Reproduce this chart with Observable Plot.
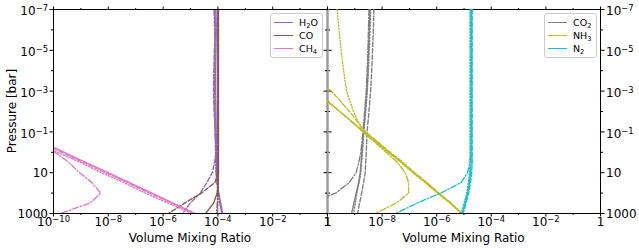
<!DOCTYPE html>
<html><head><meta charset="utf-8">
<script src="https://cdn.jsdelivr.net/npm/d3@7"></script>
<script src="https://cdn.jsdelivr.net/npm/@observablehq/plot@0.6"></script>
<style>
body{margin:0;background:#fff;font-family:"DejaVu Sans",sans-serif;}
#wrap{position:relative;width:639px;height:250px;overflow:hidden;background:#fff;}
#wrap svg{position:absolute;top:0;}
.lab{position:absolute;font-size:12px;color:#000;white-space:nowrap;line-height:1;}
.legend{position:absolute;border:1px solid #cccccc;border-radius:3px;background:rgba(255,255,255,0.85);font-size:9.5px;box-sizing:border-box;}
.legend .row{position:absolute;left:0;height:0;}
.legend .sw{position:absolute;left:3px;width:19px;height:1.6px;top:-0.8px;}
.legend .tx{position:absolute;left:28px;top:-6px;white-space:nowrap;line-height:12px;}
.legend sub{font-size:70%;vertical-align:-0.25em;line-height:0;}
</style></head><body><div id="wrap"></div>
<script>
// ---------- data ----------
const pressure = [1e-7, 1e-6, 1e-5, 1e-4, 1e-3, 1e-2, 1e-1, 1, 3, 10, 30, 100, 300, 1000];

const h2o = {
  solid:   [8.51e-5, 8.71e-5, 8.51e-5, 8.32e-5, 8.32e-5, 8.51e-5, 8.71e-5, 8.91e-5, 8.91e-5, 8.91e-5, 9.55e-5, 1.07e-4, 1.26e-4, 1.48e-4],
  dashed:  [7.59e-5, 7.94e-5, 7.41e-5, 7.08e-5, 6.92e-5, 7.24e-5, 7.94e-5, 8.51e-5, 7.59e-5, 6.31e-5, 3.98e-5, 2.24e-5, 1.0e-5, 5.01e-6],
  dotted:  [7.94e-5, 8.13e-5, 7.76e-5, 7.59e-5, 7.76e-5, 7.94e-5, 8.13e-5, 8.32e-5, 8.51e-5, 8.51e-5, 9.12e-5, 1.02e-4, 1.17e-4, 1.38e-4],
  dashdot: [7.24e-5, 7.59e-5, 7.94e-5, 7.76e-5, 7.41e-5, 7.59e-5, 7.94e-5, 8.13e-5, 8.32e-5, 8.71e-5, 9.33e-5, 1.05e-4, 1.2e-4, 1.41e-4]
};
const co = {
  solid:   [1.05e-4, 1.05e-4, 1.05e-4, 1.05e-4, 1.05e-4, 1.05e-4, 1.05e-4, 1.05e-4, 1.05e-4, 1.05e-4, 1.02e-4, 9.33e-5, 7.08e-5, 3.55e-5],
  dashed:  [1.0e-4, 1.0e-4, 1.0e-4, 1.0e-4, 1.0e-4, 1.0e-4, 1.0e-4, 1.0e-4, 1.0e-4, 9.77e-5, 7.94e-5, 2.51e-5, 6.31e-6, 1.58e-6],
  dotted:  [1.02e-4, 1.02e-4, 1.02e-4, 1.02e-4, 1.02e-4, 1.02e-4, 1.02e-4, 1.02e-4, 1.02e-4, 1.02e-4, 1.02e-4, 1.02e-4, 1.0e-4, 9.77e-5],
  dashdot: [1.0e-4, 1.0e-4, 1.0e-4, 1.0e-4, 1.0e-4, 1.0e-4, 1.0e-4, 1.0e-4, 1.0e-4, 1.0e-4, 1.0e-4, 9.77e-5, 9.55e-5, 8.91e-5]
};
const ch4 = {
  solid:   [null, null, null, null, null, null, 6.31e-12, 2.51e-10, 1.41e-9, 1.0e-8, 5.62e-8, 3.98e-7, 2.24e-6, 1.51e-5],
  dashed:  [null, null, null, null, null, null, 5.01e-12, 2.0e-10, 1.12e-9, 7.94e-9, 4.79e-8, 3.16e-7, 1.91e-6, 1.32e-5],
  dotted:  [null, null, null, null, null, null, 3.16e-12, 1.41e-10, 8.91e-10, 5.62e-9, 3.55e-8, 2.24e-7, 1.41e-6, 1.12e-5],
  dashdot: [null, null, null, null, null, null, 3.16e-12, 1.12e-10, 3.55e-10, 8.91e-10, 2.51e-9, 5.25e-9, 2.24e-9, 1.82e-10]
};
const co2 = {
  solid:   [3.55e-9, 3.39e-9, 3.16e-9, 3.02e-9, 2.75e-9, 2.4e-9, 2.09e-9, 1.82e-9, 1.7e-9, 1.58e-9, 1.38e-9, 1.12e-9, 9.33e-10, 7.59e-10],
  dashed:  [5.01e-9, 4.79e-9, 4.47e-9, 4.17e-9, 3.8e-9, 3.31e-9, 2.82e-9, 2.63e-9, 2.51e-9, 2.4e-9, 2.09e-9, 1.78e-9, 1.51e-9, 1.26e-9],
  dotted:  [3.8e-9, 3.63e-9, 3.39e-9, 3.16e-9, 2.88e-9, 2.51e-9, 2.14e-9, 1.91e-9, 1.78e-9, 1.66e-9, 1.45e-9, 1.2e-9, 1.05e-9, 8.91e-10],
  dashdot: [3.31e-9, 3.16e-9, 3.02e-9, 2.82e-9, 2.63e-9, 2.29e-9, 2.0e-9, 1.66e-9, 1.41e-9, 1.12e-9, 6.31e-10, 2.0e-10, 2.51e-11, 1.0e-12]
};
const co2Floor = [1e-10, 1e-10, 1e-10, 1e-10, 1e-10, 1e-10, 1e-10, 1e-10, 1e-10, 1e-10, 1e-10, 1e-10, 1e-10, 1e-10];
const nh3 = {
  solid:   [null, null, null, null, 3.16e-11, 2.82e-10, 2.24e-9, 1.78e-8, 5.01e-8, 1.41e-7, 3.98e-7, 1.12e-6, 3.16e-6, 8.32e-6],
  dashed:  [null, null, null, 1.26e-11, 1.41e-10, 6.31e-10, 2.51e-9, 2.0e-8, 5.62e-8, 1.58e-7, 4.37e-7, 1.2e-6, 3.31e-6, 8.71e-6],
  dotted:  [2.24e-10, 2.63e-10, 3.16e-10, 3.89e-10, 5.01e-10, 8.91e-10, 2.0e-9, 1.66e-8, 4.68e-8, 1.32e-7, 3.72e-7, 1.05e-6, 2.95e-6, 7.94e-6],
  dashdot: [null, null, null, null, 3.98e-11, 2.82e-10, 2.0e-9, 1.41e-8, 3.55e-8, 7.08e-8, 9.33e-8, 9.33e-8, 3.39e-8, 5.75e-9]
};
const n2 = {
  solid:   [1.82e-5, 1.82e-5, 1.82e-5, 1.82e-5, 1.82e-5, 1.82e-5, 1.82e-5, 1.82e-5, 1.82e-5, 1.74e-5, 1.58e-5, 1.38e-5, 1.12e-5, 8.71e-6],
  dashed:  [2.0e-5, 2.0e-5, 2.0e-5, 2.0e-5, 2.0e-5, 2.0e-5, 2.0e-5, 2.0e-5, 2.0e-5, 1.91e-5, 1.74e-5, 1.48e-5, 1.2e-5, 9.33e-6],
  dotted:  [1.66e-5, 1.66e-5, 1.66e-5, 1.66e-5, 1.66e-5, 1.66e-5, 1.66e-5, 1.66e-5, 1.66e-5, 1.58e-5, 1.45e-5, 1.26e-5, 1.02e-5, 7.94e-6],
  dashdot: [1.82e-5, 1.82e-5, 1.82e-5, 1.82e-5, 1.82e-5, 1.82e-5, 1.82e-5, 1.82e-5, 1.66e-5, 1.35e-5, 7.94e-6, 1.41e-6, 2.0e-7, 3.16e-8]
};

const leftSpecies = ["H<sub>2</sub>O", "CO", "CH<sub>4</sub>"];
const rightSpecies = ["CO<sub>2</sub>", "NH<sub>3</sub>", "N<sub>2</sub>"];
const leftColors = ["#9467bd", "#8c564b", "#e377c2"];
const rightColors = ["#7f7f7f", "#bcbd22", "#17becf"];

const xMajor = [1e-10, 1e-8, 1e-6, 1e-4, 1e-2, 1];
const xMinor = [1e-9, 1e-7, 1e-5, 1e-3, 1e-1];
const xTickLabelsLeft = ["10^\u221210", "10^\u22128", "10^\u22126", "10^\u22124", "10^\u22122", "1"];
const xTickLabelsRight = ["1", "10^\u22128", "10^\u22126", "10^\u22124", "10^\u22122", "1"];
const yMajor = [1e-7, 1e-5, 1e-3, 1e-1, 10, 1000];
const yMinor = [1e-6, 1e-4, 1e-2, 1, 100];
const yTickLabels = ["10^\u22127", "10^\u22125", "10^\u22123", "10^\u22121", "10", "1000"];
const xTitle = "Volume Mixing Ratio";
const yTitle = "Pressure [bar]";

// ---------- drawing ----------
const dashes = {solid: null, dashed: "4.5,2", dotted: "1.3,1.8", dashdot: "6,2,1.3,2"};
const blank = () => "";

function seriesMarks(set, color) {
  return Object.entries(set).map(([style, vals]) =>
    Plot.line(pressure.map((p, i) => ({p, v: vals[i]})).filter(d => d.v != null),
      {x: "v", y: "p", stroke: color, strokeWidth: 1.35, strokeDasharray: dashes[style], clip: true}));
}

function axes(xLabels, ySide) {
  const xMap = new Map(xMajor.map((d, i) => [d, xLabels[i]]));
  const yMap = new Map(yMajor.map((d, i) => [d, yTickLabels[i]]));
  const yf = d => yMap.get(d);
  return [
    Plot.axisX(xMajor, {anchor: "bottom", tickSize: 3.5, tickPadding: 0.5, tickFormat: d => xMap.get(d), label: null}),
    Plot.axisX(xMinor, {anchor: "bottom", tickSize: 2, tickFormat: blank, label: null}),
    Plot.axisX(xMajor, {anchor: "top", tickSize: 3.5, tickFormat: blank, label: null}),
    Plot.axisX(xMinor, {anchor: "top", tickSize: 2, tickFormat: blank, label: null}),
    Plot.axisY(yMajor, {anchor: "left", tickSize: 3.5, tickPadding: 2, tickFormat: ySide === "left" ? yf : blank, label: null}),
    Plot.axisY(yMinor, {anchor: "left", tickSize: 2, tickFormat: blank, label: null}),
    Plot.axisY(yMajor, {anchor: "right", tickSize: 3.5, tickPadding: 2, tickFormat: ySide === "right" ? yf : blank, label: null}),
    Plot.axisY(yMinor, {anchor: "right", tickSize: 2, tickFormat: blank, label: null})
  ];
}

const common = {
  height: 250, marginTop: 9, marginBottom: 37,
  x: {type: "log", domain: [1e-10, 1]},
  y: {type: "log", domain: [1000, 1e-7]},
  style: {background: "transparent", fontFamily: "DejaVu Sans", fontSize: "12px", overflow: "visible", color: "black"}
};

const left = Plot.plot({
  ...common, width: 340, marginLeft: 53, marginRight: 13,
  marks: [
    ...seriesMarks(h2o, leftColors[0]),
    ...seriesMarks(co, leftColors[1]),
    ...seriesMarks(ch4, leftColors[2]),
    Plot.frame({stroke: "black"}),
    ...axes(xTickLabelsLeft, "left")
  ]
});

const right = Plot.plot({
  ...common, width: 325, marginLeft: 13, marginRight: 39,
  marks: [
    Plot.frame({stroke: "black"}),
    Plot.line(pressure.map((p, i) => ({p, v: co2Floor[i]})), {x: "v", y: "p", stroke: "#999999", strokeWidth: 2.4}),
    ...seriesMarks(co2, rightColors[0]),
    ...seriesMarks(nh3, rightColors[1]),
    ...seriesMarks(n2, rightColors[2]),
    ...axes(xTickLabelsRight, "right")
  ]
});

// superscripts on tick labels
const NS = "http://www.w3.org/2000/svg";
function superscripts(svg) {
  svg.querySelectorAll("text").forEach(t => {
    const s = t.textContent;
    const isY = !!t.closest('[aria-label^="y-axis"]');
    const m = /^10\^(.+)$/.exec(s);
    if (!m && !isY) return;
    t.textContent = "";
    const a = document.createElementNS(NS, "tspan");
    a.textContent = m ? "10" : s;
    if (isY) a.setAttribute("dy", m ? "0.16em" : "0.02em");
    t.append(a);
    if (m) {
      const b = document.createElementNS(NS, "tspan");
      b.setAttribute("dy", "-0.45em");
      b.setAttribute("font-size", "70%");
      b.textContent = m[1];
      t.append(b);
    }
  });
}
superscripts(left);
superscripts(right);

const wrap = document.getElementById("wrap");
left.style.left = "0px";
right.style.left = "314px";
wrap.append(left, right);

function label(text, x, y, rot) {
  const d = document.createElement("div");
  d.className = "lab";
  d.textContent = text;
  d.style.left = x + "px";
  d.style.top = y + "px";
  d.style.transform = "translate(-50%,-50%)" + (rot ? " rotate(-90deg)" : "");
  wrap.append(d);
}
label(yTitle, 12, 111, true);
label(xTitle, 190, 238, false);
label(xTitle, 463.5, 238, false);

function legend(names, colors, x) {
  const box = document.createElement("div");
  box.className = "legend";
  Object.assign(box.style, {left: x + "px", top: "13px", width: "53px", height: "45px"});
  names.forEach((n, i) => {
    const r = document.createElement("div");
    r.className = "row";
    r.style.top = (8.5 + 13 * i) + "px";
    r.innerHTML = `<span class="sw" style="background:${colors[i]}"></span><span class="tx">${n}</span>`;
    box.append(r);
  });
  wrap.append(box);
}
legend(leftSpecies, leftColors, 270);
legend(rightSpecies, rightColors, 544);
</script></body></html>
